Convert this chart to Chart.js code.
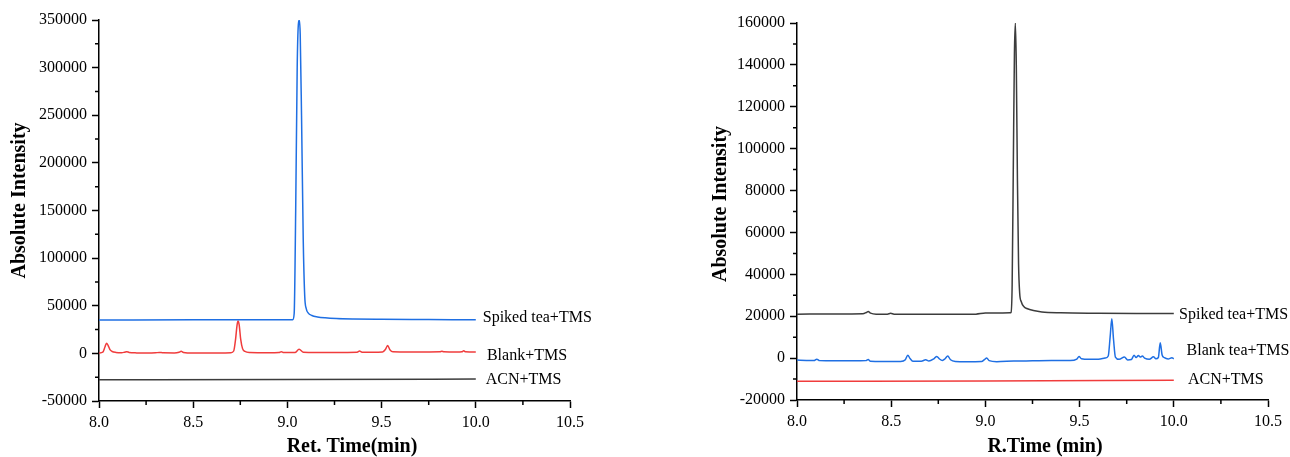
<!DOCTYPE html>
<html>
<head>
<meta charset="utf-8">
<script src="https://cdn.jsdelivr.net/npm/chart.js@4"></script>
<style>
html, body { margin: 0; padding: 0; background: #fff; }
#wrap { position: relative; width: 1290px; height: 457px; }
canvas { position: absolute; top: 0; }
#c1 { left: 0; }
#c2 { left: 645px; }
</style>
</head>
<body>
<div id="wrap">
  <canvas id="c1" width="645" height="457"></canvas>
  <canvas id="c2" width="645" height="457"></canvas>
</div>
<script>
// left panel (Ret. Time)
var leftNames = ['Spiked tea+TMS', 'Blank+TMS', 'ACN+TMS'];
var aSpikedT = [8.0, 8.5, 9.0, 9.028, 9.036, 9.044, 9.052, 9.058, 9.063, 9.068, 9.075, 9.084, 9.092, 9.1, 9.11, 9.13, 9.16, 9.2, 9.26, 9.35, 9.5, 9.75, 10.0];
var aSpikedY = [35100, 35200, 35200, 35400, 42000, 150000, 300000, 345000, 350000, 335000, 250000, 120000, 60000, 47000, 42500, 39800, 38300, 37300, 36500, 36000, 35700, 35500, 35300];
var aBlankT = [8.0, 8.02, 8.032, 8.04, 8.048, 8.058, 8.07, 8.09, 8.12, 8.135, 8.147, 8.16, 8.2, 8.25, 8.3, 8.32, 8.34, 8.4, 8.425, 8.436, 8.448, 8.5, 8.6, 8.7, 8.715, 8.725, 8.733, 8.738, 8.744, 8.752, 8.762, 8.775, 8.8, 8.9, 8.955, 8.968, 8.98, 9.04, 9.062, 9.085, 9.15, 9.25, 9.37, 9.383, 9.396, 9.45, 9.505, 9.52, 9.532, 9.545, 9.56, 9.65, 9.75, 9.81, 9.82, 9.83, 9.9, 9.926, 9.936, 9.946, 10.0];
var aBlankY = [300, 1200, 7000, 10700, 8500, 4000, 2000, 1000, 700, 1200, 1800, 1000, 500, 400, 600, 1000, 600, 500, 1200, 2200, 1000, 300, 300, 700, 2500, 15000, 30000, 34000, 30000, 15000, 5000, 2000, 900, 600, 800, 1800, 900, 900, 4300, 1200, 1000, 1000, 1200, 2400, 1300, 1200, 1400, 4000, 8200, 3500, 1600, 1400, 1500, 1600, 2300, 1600, 1400, 1700, 2700, 1600, 1400];
var aAcnT = [8.0, 9.0, 10.0];
var aAcnY = [-27700, -27300, -27000];

// right panel (R.Time)
var rightNames = ['Spiked tea+TMS', 'Blank tea+TMS', 'ACN+TMS'];
var bSpikedT = [8.0, 8.2, 8.35, 8.368, 8.378, 8.39, 8.42, 8.48, 8.497, 8.515, 8.6, 8.8, 8.95, 9.0, 9.05, 9.13, 9.136, 9.142, 9.148, 9.154, 9.159, 9.164, 9.17, 9.176, 9.182, 9.19, 9.205, 9.22, 9.255, 9.3, 9.4, 9.6, 9.8, 10.0];
var bSpikedY = [21000, 21100, 21200, 21800, 22200, 21500, 21000, 21000, 21400, 21000, 20900, 20900, 21000, 21500, 21500, 21600, 21800, 35000, 90000, 145000, 160000, 140000, 85000, 45000, 31000, 27000, 24500, 23700, 22700, 22000, 21600, 21400, 21300, 21300];
var bBlankT = [8.0, 8.05, 8.09, 8.105, 8.12, 8.2, 8.3, 8.365, 8.378, 8.39, 8.45, 8.55, 8.575, 8.588, 8.6, 8.615, 8.66, 8.683, 8.7, 8.728, 8.742, 8.756, 8.772, 8.786, 8.8, 8.815, 8.84, 8.9, 8.98, 8.995, 9.007, 9.02, 9.06, 9.15, 9.25, 9.35, 9.45, 9.485, 9.497, 9.51, 9.55, 9.6, 9.635, 9.652, 9.662, 9.671, 9.68, 9.69, 9.71, 9.738, 9.755, 9.775, 9.789, 9.8, 9.812, 9.822, 9.833, 9.845, 9.87, 9.892, 9.905, 9.918, 9.928, 9.938, 9.95, 9.97, 9.99, 10.0];
var bBlankY = [-900, -1100, -1200, -500, -1200, -1300, -1300, -1200, -700, -1500, -1600, -1600, -800, 1400, -200, -1500, -1500, -800, -1400, -200, 800, -400, -1100, -300, 1000, -800, -1600, -1700, -1600, -700, 0, -1200, -1700, -1400, -1300, -1200, -1200, -500, 800, -300, -600, -500, 0, 1000, 10000, 18800, 9000, 500, -600, 500, -900, -700, 1400, 300, 1200, 500, 1000, 0, -600, 600, -300, 300, 7300, 1500, 200, -400, 200, -300];
var bAcnT = [8.0, 9.0, 10.0];
var bAcnY = [-11100, -10900, -10600];

var BLUE = '#1f6fe3', RED = '#f03c3c', DARK = '#3c3c3c';
var FONT = 'Liberation Serif';

function pts(t, y) {
    return t.map(function (v, i) { return {x: v, y: y[i]}; });
}

// minor ticks + series names at the end of each trace
var extras = {
    id: 'extras',
    afterDraw: function (chart, args, opts) {
        var c = chart.ctx, xs = chart.scales.x, ys = chart.scales.y, i, n, p;
        c.save();
        c.strokeStyle = '#000';
        c.lineWidth = 1.5;
        c.beginPath();
        n = Math.round((xs.max - xs.min) / opts.xMinor);
        for (i = 1; i < n; i += 2) {
            p = xs.getPixelForValue(xs.min + i * opts.xMinor);
            c.moveTo(p, chart.chartArea.bottom);
            c.lineTo(p, chart.chartArea.bottom + 4);
        }
        n = Math.round((ys.max - ys.min) / opts.yMinor);
        for (i = 1; i < n; i += 2) {
            p = ys.getPixelForValue(ys.min + i * opts.yMinor);
            c.moveTo(chart.chartArea.left, p);
            c.lineTo(chart.chartArea.left - 4, p);
        }
        c.stroke();
        c.fillStyle = '#000';
        c.font = '16px "' + FONT + '"';
        c.textBaseline = 'middle';
        c.textAlign = 'left';
        opts.names.forEach(function (name, k) {
            var at = opts.at[k];
            c.fillText(name, xs.getPixelForValue(at[0]), ys.getPixelForValue(at[1]));
        });
        c.restore();
    }
};

function makeChart(id, o) {
    return new Chart(document.getElementById(id).getContext('2d'), {
        type: 'line',
        data: {
            datasets: o.series.map(function (s) {
                return {
                    data: pts(s[0], s[1]),
                    borderColor: s[2],
                    borderWidth: 1.5,
                    pointRadius: 0,
                    cubicInterpolationMode: 'monotone',
                    fill: false
                };
            })
        },
        options: {
            responsive: false,
            animation: false,
            layout: {padding: o.pad},
            plugins: {
                legend: {display: false},
                tooltip: {enabled: false},
                extras: {xMinor: 0.25, yMinor: o.ystep / 2, names: o.names, at: o.at}
            },
            scales: {
                x: {
                    type: 'linear', min: 8, max: 10.5,
                    afterFit: function (s) { s.height = o.xh; },
                    ticks: {
                        stepSize: 0.5, padding: 5, color: '#000', maxRotation: 0,
                        font: {family: FONT, size: 16},
                        callback: function (v) { return v.toFixed(1); }
                    },
                    grid: {drawOnChartArea: false, tickLength: 7, tickWidth: 1.5, tickColor: '#000'},
                    border: {color: '#000', width: 1.5},
                    title: {
                        display: true, text: o.xTitle, color: '#000',
                        font: {family: FONT, size: 20, weight: 'bold', lineHeight: 1},
                        padding: {top: 0, bottom: 0}
                    }
                },
                y: {
                    min: o.ymin, max: o.ymax,
                    afterFit: function (s) { s.width = o.yw; },
                    ticks: {
                        stepSize: o.ystep, padding: 5, color: '#000',
                        font: {family: FONT, size: 16},
                        callback: function (v) { return String(v); }
                    },
                    grid: {drawOnChartArea: false, tickLength: 7, tickWidth: 1.5, tickColor: '#000'},
                    border: {color: '#000', width: 1.5},
                    title: {
                        display: true, text: o.yTitle, color: '#000',
                        font: {family: FONT, size: 20, weight: 'bold', lineHeight: 1},
                        padding: {top: o.ytPad, bottom: 0}
                    }
                }
            }
        },
        plugins: [extras]
    });
}

makeChart('c1', {
    series: [[aSpikedT, aSpikedY, BLUE], [aBlankT, aBlankY, RED], [aAcnT, aAcnY, DARK]],
    names: leftNames,
    at: [[10.037, 36950], [10.059, -2600], [10.053, -27800]],
    ymin: -50000, ymax: 350000, ystep: 50000,
    pad: {top: 20, right: 75, bottom: 0, left: 0},
    xh: 56, yw: 99, ytPad: 10,
    xTitle: '       Ret. Time(min)',
    yTitle: '    Absolute Intensity'
});

makeChart('c2', {
    series: [[bSpikedT, bSpikedY, DARK], [bBlankT, bBlankY, BLUE], [bAcnT, bAcnY, RED]],
    names: rightNames,
    at: [[10.028, 20700], [10.068, 3700], [10.075, -10200]],
    ymin: -20000, ymax: 160000, ystep: 20000,
    pad: {top: 23, right: 22, bottom: 0, left: 0},
    xh: 57, yw: 152, ytPad: 66,
    xTitle: '     R.Time (min)',
    yTitle: '   Absolute Intensity'
});
</script>
</body>
</html>
